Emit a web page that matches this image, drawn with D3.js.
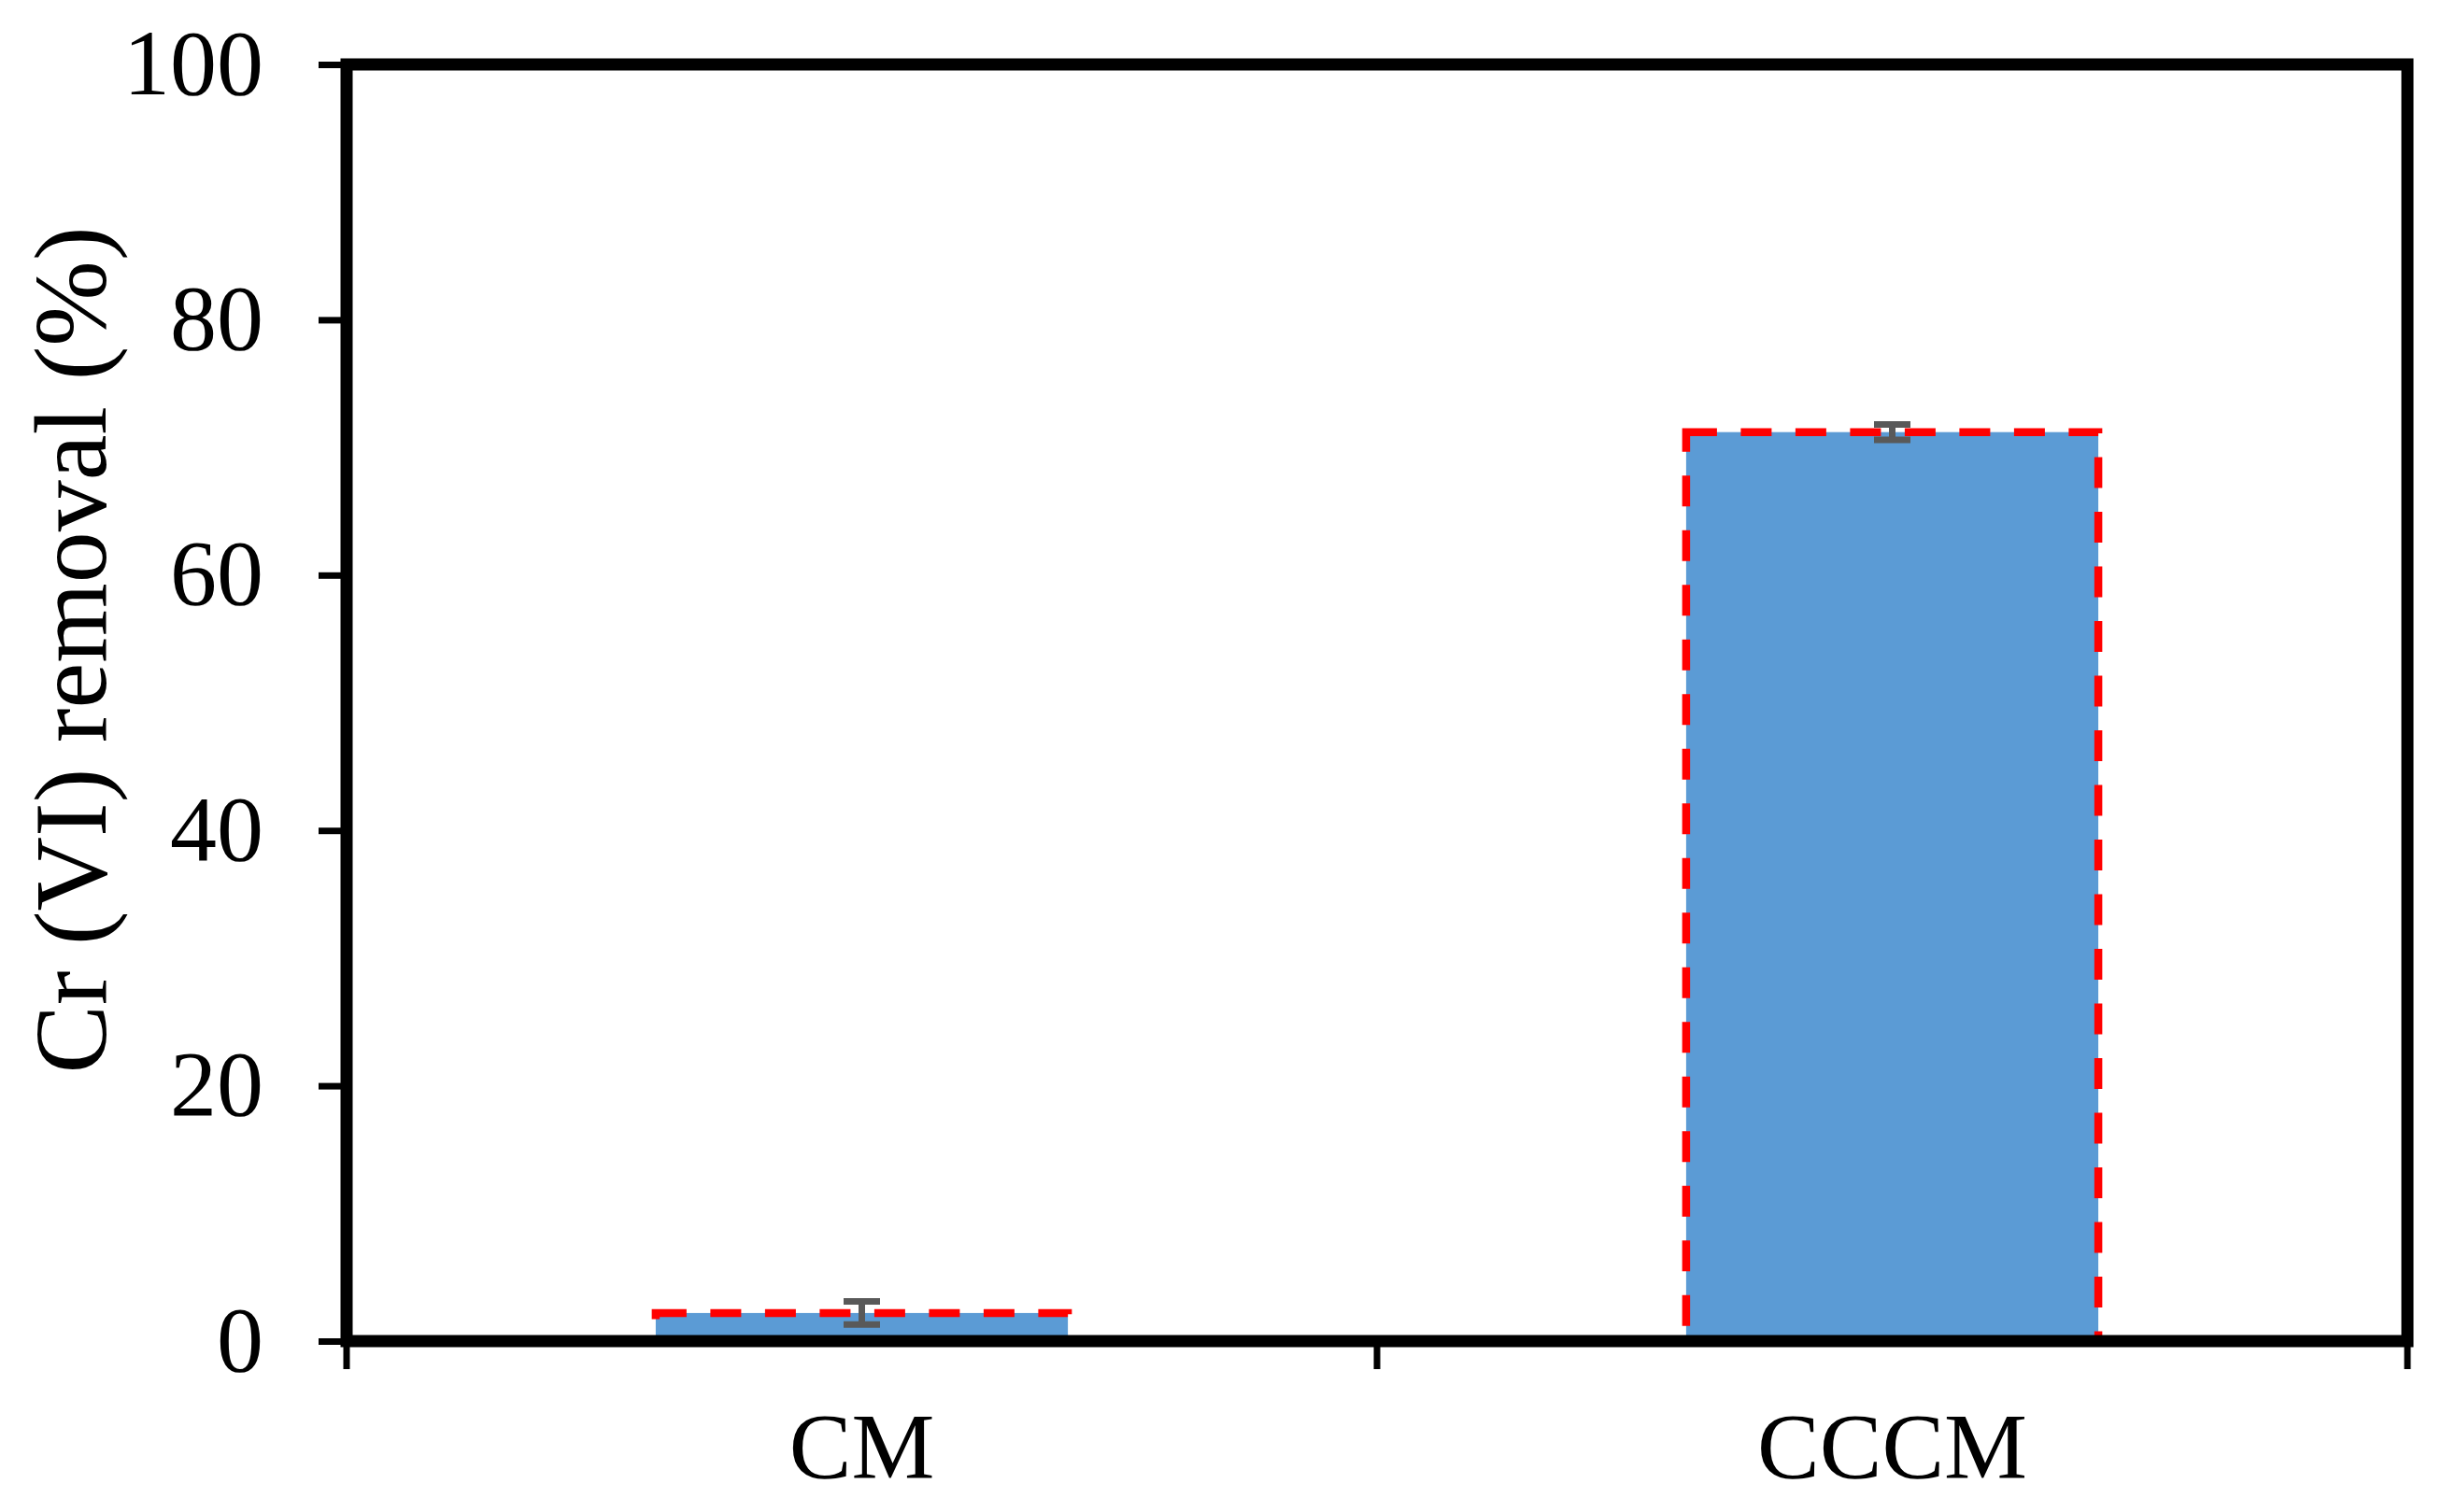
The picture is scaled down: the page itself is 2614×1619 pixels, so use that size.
<!DOCTYPE html>
<html>
<head>
<meta charset="utf-8">
<script src="https://cdn.jsdelivr.net/npm/d3@7"></script>
<style>
  html, body { margin: 0; padding: 0; background: #fff; }
  svg { display: block; }
</style>
</head>
<body>
<svg id="chart" width="2614" height="1619"></svg>
<script>
const categories = ["CM", "CCCM"];
const removal = [2.2, 71.2];
const errors = [0.9, 0.6];
const yTicks = [0, 20, 40, 60, 80, 100];
const yTitle = "Cr (VI) removal (%)";

const W = 2614, H = 1619;
const margin = { left: 371, right: W - 2577, top: 69, bottom: H - 1436 };
const svg = d3.select("#chart");
svg.append("rect").attr("width", W).attr("height", H).attr("fill", "#fff");

const x = d3.scaleBand().domain(categories)
  .range([margin.left, W - margin.right]).paddingInner(0).paddingOuter(0);
const y = d3.scaleLinear().domain([0, 100]).range([H - margin.bottom, margin.top]);

const barW = x.bandwidth() / 2.5;
const font = "'Liberation Serif', 'Times New Roman', serif";

// bars
const data = categories.map((c, i) => ({ c, v: removal[i], e: errors[i] }));
svg.append("g").selectAll("rect").data(data).join("rect")
  .attr("x", d => x(d.c) + x.bandwidth() / 2 - barW / 2)
  .attr("y", d => y(d.v))
  .attr("width", barW)
  .attr("height", d => y(0) - y(d.v))
  .attr("fill", "#5B9BD5")
  .attr("stroke", "#FF0000")
  .attr("stroke-width", 8.5)
  .attr("stroke-dasharray", "33,25.5");

// error bars
const eg = svg.append("g").attr("stroke", "#595959").attr("stroke-width", 7);
data.forEach(d => {
  const cx = x(d.c) + x.bandwidth() / 2;
  eg.append("line").attr("x1", cx).attr("x2", cx).attr("y1", y(d.v + d.e)).attr("y2", y(d.v - d.e));
  [d.v + d.e, d.v - d.e].forEach(v => {
    eg.append("line").attr("x1", cx - 19.5).attr("x2", cx + 19.5).attr("y1", y(v)).attr("y2", y(v));
  });
});

// axes
const yAxis = d3.axisLeft(y).tickValues(yTicks).tickSize(30).tickPadding(0).tickFormat(d3.format("d"));
const gy = svg.append("g").attr("transform", `translate(${margin.left},0)`).call(yAxis);
gy.select(".domain").remove();
gy.selectAll(".tick line").attr("stroke", "#000").attr("stroke-width", 7);
gy.selectAll(".tick text")
  .attr("x", -89).attr("dy", null).attr("y", 31)
  .attr("font-family", font).attr("font-size", 100).attr("fill", "#000")
  .attr("text-anchor", "end");

const xAxis = d3.axisBottom(x).tickSize(0).tickPadding(0);
const gx = svg.append("g").attr("transform", `translate(0,${H - margin.bottom})`).call(xAxis);
gx.select(".domain").remove();
gx.selectAll(".tick text")
  .attr("y", 146).attr("dy", null)
  .attr("font-family", font).attr("font-size", 100).attr("fill", "#000");

// x boundary ticks
const xb = [x.range()[0], ...categories.slice(1).map(c => x(c)), x.range()[1]];
svg.append("g").selectAll("line").data(xb).join("line")
  .attr("x1", d => d).attr("x2", d => d)
  .attr("y1", y(0)).attr("y2", y(0) + 30)
  .attr("stroke", "#000").attr("stroke-width", 7);

// frame
svg.append("rect")
  .attr("x", margin.left).attr("y", margin.top)
  .attr("width", W - margin.right - margin.left)
  .attr("height", H - margin.bottom - margin.top)
  .attr("fill", "none").attr("stroke", "#000").attr("stroke-width", 13);

// y title
svg.append("text")
  .attr("transform", `translate(113,696) rotate(-90)`)
  .attr("text-anchor", "middle")
  .attr("font-family", font).attr("font-size", 110).attr("fill", "#000")
  .text(yTitle);
</script>
</body>
</html>
